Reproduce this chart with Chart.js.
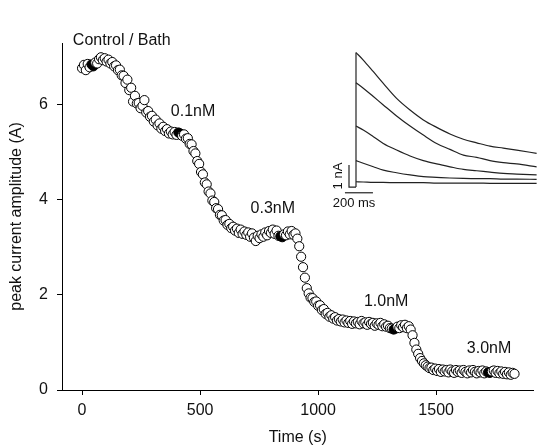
<!DOCTYPE html>
<html>
<head>
<meta charset="utf-8">
<script src="https://cdn.jsdelivr.net/npm/chart.js@4.4.0/dist/chart.umd.min.js"></script>
<style>
    html, body { margin: 0; padding: 0; background: #fff; overflow: hidden; }
    #wrap { position: relative; width: 539px; height: 448px; }
    #mainChart { position: absolute; left: 0; top: 0; }
    #insetChart { position: absolute; left: 330px; top: 40px; }
</style>
</head>
<body>
<div id="wrap">
    <canvas id="mainChart" width="539" height="448"></canvas>
    <canvas id="insetChart" width="209" height="175"></canvas>
</div>
<script>
    'use strict';

    // time course of the peak current (s, A)
    var timeS = [
        0, 8, 16, 24, 32, 40, 48, 56, 64, 72,
        80, 88, 96, 104, 112, 120, 128, 136, 144, 152,
        160, 168, 176, 184, 192, 200, 208, 216, 224, 232,
        240, 248, 256, 264, 272, 280, 288, 296, 304, 312,
        320, 328, 336, 344, 352, 360, 368, 376, 384, 392,
        400, 408, 416, 424, 432, 440, 448, 456, 464, 472,
        480, 488, 496, 504, 512, 520, 528, 536, 544, 552,
        560, 568, 576, 584, 592, 600, 608, 616, 624, 632,
        640, 648, 656, 664, 672, 680, 688, 696, 704, 712,
        720, 728, 736, 744, 752, 760, 768, 776, 784, 792,
        800, 808, 816, 824, 832, 840, 848, 856, 864, 872,
        880, 888, 896, 904, 912, 920, 928, 936, 944, 952,
        960, 968, 976, 984, 992, 1000, 1008, 1016, 1024, 1032,
        1040, 1048, 1056, 1064, 1072, 1080, 1088, 1096, 1104, 1112,
        1120, 1128, 1136, 1144, 1152, 1160, 1168, 1176, 1184, 1192,
        1200, 1208, 1216, 1224, 1232, 1240, 1248, 1256, 1264, 1272,
        1280, 1288, 1296, 1304, 1312, 1320, 1328, 1336, 1344, 1352,
        1360, 1368, 1376, 1384, 1392, 1400, 1408, 1416, 1424, 1432,
        1440, 1448, 1456, 1464, 1472, 1480, 1488, 1496, 1504, 1512,
        1520, 1528, 1536, 1544, 1552, 1560, 1568, 1576, 1584, 1592,
        1600, 1608, 1616, 1624, 1632, 1640, 1648, 1656, 1664, 1672,
        1680, 1688, 1696, 1704, 1712, 1720, 1728, 1736, 1744, 1752,
        1760, 1768, 1776, 1784, 1792, 1800, 1808, 1816, 1824, 1832
    ];
    var amplitudeA = [
        6.76, 6.83, 6.72, 6.85, 6.78, 6.84, 6.80, 6.88, 6.86, 6.95,
        6.99, 6.93, 6.97, 6.90, 6.94, 6.86, 6.89, 6.80, 6.82, 6.72,
        6.73, 6.61, 6.60, 6.45, 6.52, 6.30, 6.35, 6.06, 6.18, 6.02,
        6.03, 5.92, 5.97, 6.09, 5.83, 5.86, 5.74, 5.76, 5.64, 5.68,
        5.56, 5.60, 5.49, 5.53, 5.44, 5.48, 5.39, 5.43, 5.37, 5.42,
        5.36, 5.41, 5.39, 5.34, 5.37, 5.28, 5.29, 5.17, 5.16, 5.02,
        4.97, 4.81, 4.75, 4.58, 4.53, 4.36, 4.32, 4.17, 4.13, 3.98,
        3.95, 3.82, 3.80, 3.68, 3.67, 3.56, 3.57, 3.47, 3.49, 3.40,
        3.43, 3.35, 3.39, 3.30, 3.37, 3.28, 3.33, 3.26, 3.31, 3.22,
        3.29, 3.20, 3.13, 3.24, 3.19, 3.27, 3.22, 3.31, 3.25, 3.34,
        3.30, 3.37, 3.28, 3.35, 3.24, 3.23, 3.21, 3.27, 3.25, 3.33,
        3.27, 3.34, 3.26, 3.29, 3.18, 3.02, 2.80, 2.58, 2.36, 2.14,
        2.03, 1.94, 1.93, 1.85, 1.86, 1.77, 1.78, 1.68, 1.70, 1.60,
        1.62, 1.54, 1.57, 1.50, 1.53, 1.46, 1.49, 1.44, 1.48, 1.42,
        1.46, 1.41, 1.45, 1.39, 1.44, 1.40, 1.43, 1.38, 1.45, 1.40,
        1.42, 1.37, 1.43, 1.39, 1.41, 1.35, 1.40, 1.37, 1.41, 1.34,
        1.38, 1.33, 1.35, 1.30, 1.29, 1.27, 1.29, 1.33, 1.30, 1.36,
        1.32, 1.37, 1.30, 1.34, 1.27, 1.15, 0.99, 0.85, 0.76, 0.67,
        0.61, 0.56, 0.52, 0.49, 0.46, 0.47, 0.42, 0.45, 0.40, 0.44,
        0.38, 0.43, 0.39, 0.42, 0.37, 0.43, 0.39, 0.36, 0.42, 0.38,
        0.41, 0.36, 0.42, 0.38, 0.35, 0.41, 0.37, 0.42, 0.38, 0.35,
        0.40, 0.37, 0.41, 0.35, 0.39, 0.37, 0.36, 0.39, 0.41, 0.36,
        0.40, 0.35, 0.39, 0.34, 0.38, 0.33, 0.37, 0.32, 0.36, 0.34
    ];
    // samples drawn as filled circles (traces shown in the inset)
    var filledTimes = [40, 48, 408, 416, 840, 848, 1320, 1328, 1720, 1728];

    var xTicks = [0, 500, 1000, 1500];
    var yTicks = [0, 2, 4, 6];

    var labelText = ['Control / Bath', '0.1nM', '0.3nM', '1.0nM', '3.0nM'];
    var labelTime = [-39, 376, 714, 1194, 1630];
    var labelAmp = [7.34, 5.84, 3.82, 1.85, 0.86];

    // inset: current traces (ms, nA)
    var insetMs = [0, 52, 124, 195, 290, 386, 481, 576, 671, 767, 862, 957, 1052, 1148, 1290];
    var trace1 = [6.11, 5.77, 5.24, 4.71, 4.03, 3.50, 3.05, 2.71, 2.41, 2.17, 2.01, 1.86, 1.77, 1.68, 1.53];
    var trace2 = [4.74, 4.49, 4.11, 3.73, 3.23, 2.77, 2.36, 1.98, 1.71, 1.45, 1.35, 1.20, 1.11, 1.05, 0.92];
    var trace3 = [2.77, 2.59, 2.29, 1.98, 1.68, 1.41, 1.20, 1.05, 0.92, 0.80, 0.74, 0.68, 0.62, 0.59, 0.55];
    var trace4 = [1.20, 1.08, 0.92, 0.77, 0.65, 0.55, 0.47, 0.44, 0.41, 0.39, 0.38, 0.38, 0.36, 0.36, 0.35];
    var trace5 = [0.24, 0.23, 0.21, 0.21, 0.20, 0.20, 0.20, 0.18, 0.18, 0.18, 0.18, 0.17, 0.17, 0.17, 0.17];
    var scaleBarNa = 1;
    var scaleBarMs = 200;

    var FONT = '"Liberation Sans", Arial, sans-serif';
    var INK = '#111';

    var points = timeS.map(function (t, i) {
        return {x: t, y: amplitudeA[i]};
    });
    var fills = timeS.map(function (t) {
        return filledTimes.indexOf(t) >= 0 ? '#000' : '#fff';
    });

    var concLabels = {
        id: 'concLabels',
        afterDatasetsDraw: function (chart) {
            var ctx = chart.ctx, x = chart.scales.x, y = chart.scales.y;
            ctx.save();
            ctx.font = '16px ' + FONT;
            ctx.fillStyle = INK;
            ctx.textAlign = 'left';
            ctx.textBaseline = 'middle';
            labelText.forEach(function (txt, i) {
                ctx.fillText(txt, x.getPixelForValue(labelTime[i]), y.getPixelForValue(labelAmp[i]));
            });
            ctx.restore();
        }
    };

    function plainTick(value) {
        return String(value);
    }

    function axisStyle(extra) {
        var base = {
            type: 'linear',
            grid: {drawOnChartArea: false, drawTicks: true, tickLength: 5, color: '#000', lineWidth: 1},
            border: {display: true, color: '#000', width: 1}
        };
        return Object.assign(base, extra);
    }

    new Chart(document.getElementById('mainChart'), {
        type: 'scatter',
        data: {
            datasets: [{
                data: points,
                pointRadius: 4.6,
                pointBorderWidth: 1,
                pointBorderColor: '#000',
                pointBackgroundColor: fills,
                showLine: false,
                clip: false
            }]
        },
        options: {
            responsive: false,
            animation: false,
            layout: {padding: {top: 43, right: 0, bottom: 0, left: 0}},
            plugins: {legend: {display: false}, tooltip: {enabled: false}},
            scales: {
                x: axisStyle({
                    min: -85,
                    max: 1912,
                    afterBuildTicks: function (s) {
                        s.ticks = xTicks.map(function (v) { return {value: v}; });
                    },
                    afterFit: function (s) { s.height = 58; },
                    ticks: {font: {family: FONT, size: 16}, color: INK, padding: 6, maxRotation: 0, callback: plainTick},
                    title: {display: true, text: 'Time (s)', font: {family: FONT, size: 16}, color: INK, padding: {top: 0, bottom: 1}}
                }),
                y: axisStyle({
                    min: 0,
                    max: 7.29,
                    afterBuildTicks: function (s) {
                        s.ticks = yTicks.map(function (v) { return {value: v}; });
                    },
                    afterFit: function (s) { s.width = 62; },
                    ticks: {font: {family: FONT, size: 16}, color: INK, padding: 9, callback: plainTick},
                    title: {display: true, text: 'peak current amplitude (A)', font: {family: FONT, size: 16}, color: INK, padding: {top: 7, bottom: 0}}
                })
            }
        },
        plugins: [concLabels]
    });

    // inset with the raw current traces and scale bars
    function line(xs, ys) {
        return xs.map(function (v, i) { return {x: v, y: ys[i]}; });
    }
    var traceStyle = {
        borderColor: '#222',
        borderWidth: 1.2,
        pointRadius: 0,
        showLine: true,
        fill: false,
        clip: false,
        cubicInterpolationMode: 'monotone'
    };
    var barX = -50;
    var barY = -0.26;
    var insetSets = [trace1, trace2, trace3, trace4, trace5].map(function (tr) {
        return Object.assign({data: line(insetMs, tr)}, traceStyle);
    });
    insetSets.push(Object.assign({data: [{x: 0, y: 0}, {x: 0, y: trace1[0]}]}, traceStyle, {cubicInterpolationMode: 'default'}));
    insetSets.push(Object.assign({data: [{x: barX, y: scaleBarNa}, {x: barX, y: 0}, {x: 0, y: 0}]}, traceStyle, {cubicInterpolationMode: 'default'}));
    insetSets.push(Object.assign({data: [{x: -79, y: barY}, {x: -79 + scaleBarMs, y: barY}]}, traceStyle, {cubicInterpolationMode: 'default'}));

    var barLabels = {
        id: 'barLabels',
        afterDatasetsDraw: function (chart) {
            var ctx = chart.ctx, x = chart.scales.x, y = chart.scales.y;
            ctx.save();
            ctx.font = '13px ' + FONT;
            ctx.fillStyle = INK;
            ctx.textAlign = 'center';
            ctx.textBaseline = 'middle';
            ctx.fillText(scaleBarMs + ' ms', x.getPixelForValue(-79 + scaleBarMs / 2 - 35), y.getPixelForValue(-0.73));
            ctx.translate(x.getPixelForValue(-128), y.getPixelForValue(scaleBarNa / 2));
            ctx.rotate(-Math.PI / 2);
            ctx.fillText(scaleBarNa + ' nA', 0, 0);
            ctx.restore();
        }
    };

    new Chart(document.getElementById('insetChart'), {
        type: 'scatter',
        data: {datasets: insetSets},
        options: {
            responsive: false,
            animation: false,
            layout: {padding: 0},
            plugins: {legend: {display: false}, tooltip: {enabled: false}},
            scales: {
                x: {type: 'linear', display: false, min: -185.7, max: 1307},
                y: {type: 'linear', display: false, min: -1.27, max: 6.68}
            }
        },
        plugins: [barLabels]
    });
</script>
</body>
</html>
